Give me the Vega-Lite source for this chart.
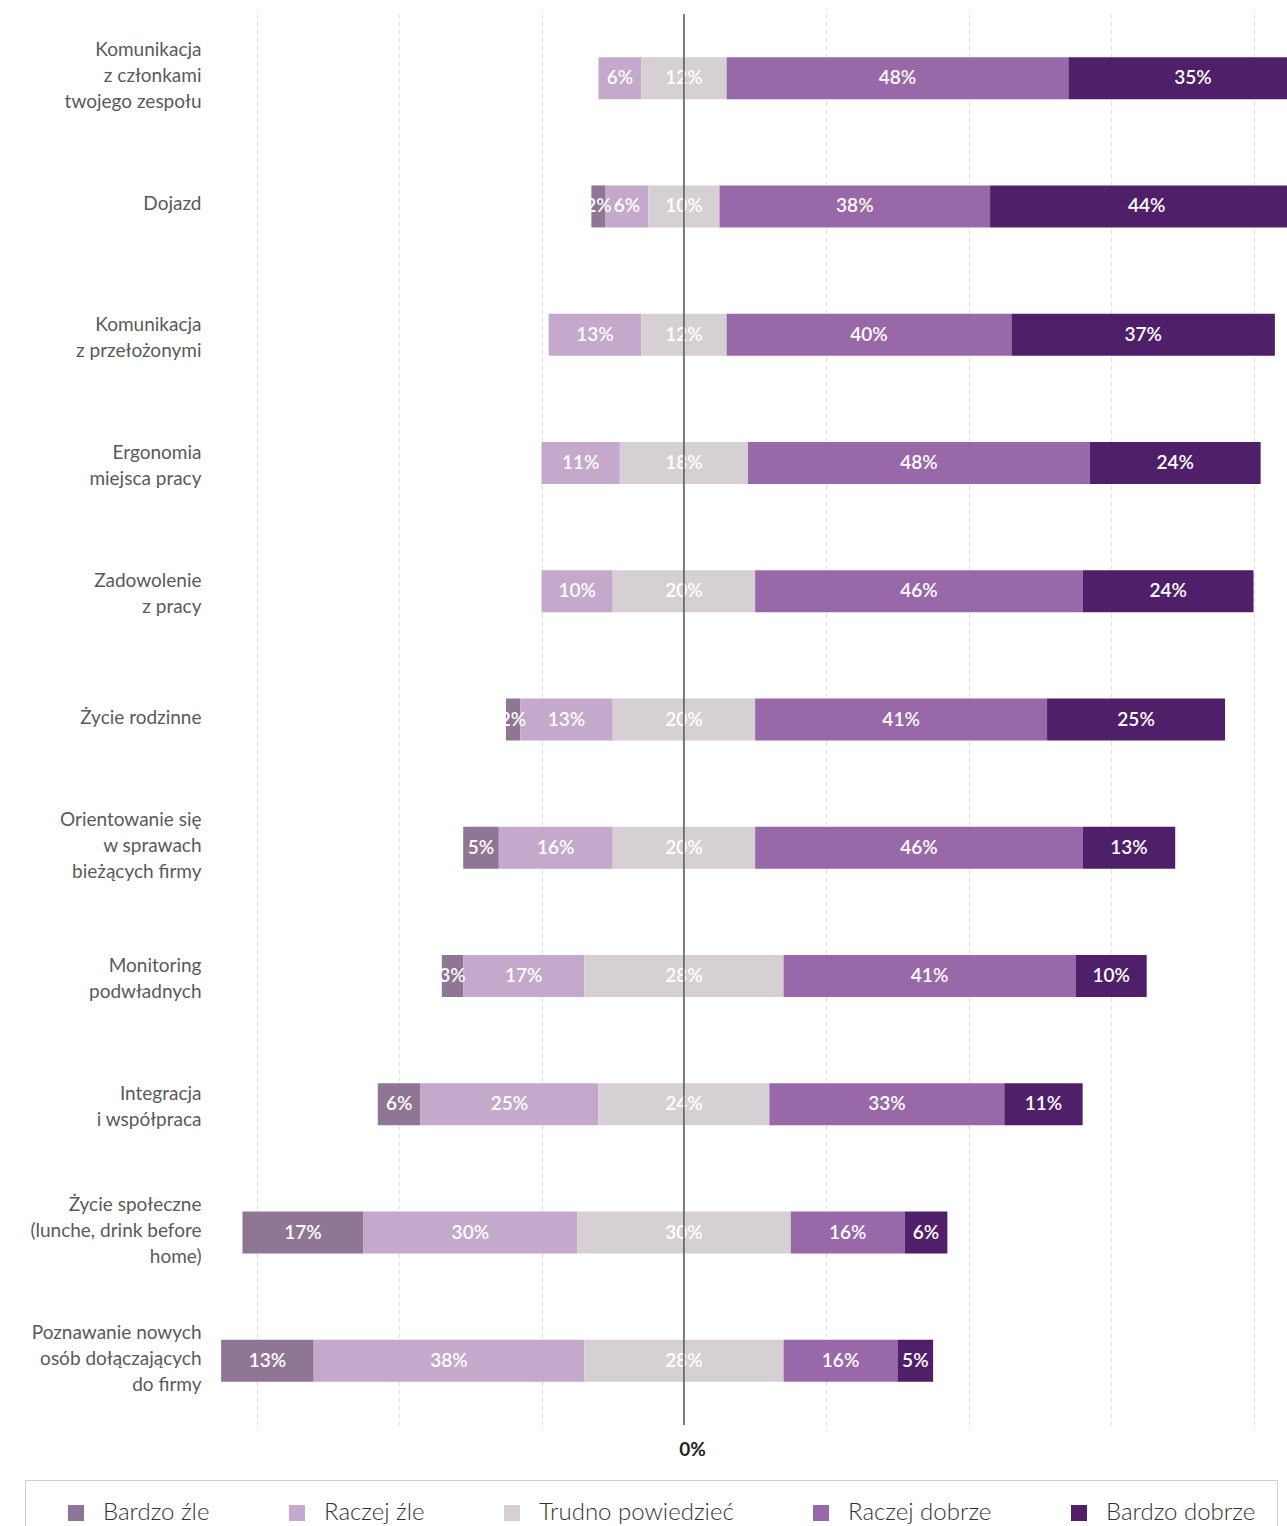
{
  "$schema": "https://vega.github.io/schema/vega-lite/v6.json",
  "autosize": {"type": "none"},
  "width": 1073,
  "height": 1411,
  "padding": {"left": 214, "top": 14, "right": 0, "bottom": 101},
  "background": "white",
  "config": {
    "view": {"stroke": null},
    "font": "Lato"
  },
  "data": {
    "values": [
      {"q": "Komunikacja|z członkami|twojego zespołu", "cat": "Raczej źle", "pct": 6},
      {"q": "Komunikacja|z członkami|twojego zespołu", "cat": "Trudno powiedzieć", "pct": 12},
      {"q": "Komunikacja|z członkami|twojego zespołu", "cat": "Raczej dobrze", "pct": 48},
      {"q": "Komunikacja|z członkami|twojego zespołu", "cat": "Bardzo dobrze", "pct": 35},
      {"q": "Dojazd", "cat": "Bardzo źle", "pct": 2},
      {"q": "Dojazd", "cat": "Raczej źle", "pct": 6},
      {"q": "Dojazd", "cat": "Trudno powiedzieć", "pct": 10},
      {"q": "Dojazd", "cat": "Raczej dobrze", "pct": 38},
      {"q": "Dojazd", "cat": "Bardzo dobrze", "pct": 44},
      {"q": "Komunikacja|z przełożonymi", "cat": "Raczej źle", "pct": 13},
      {"q": "Komunikacja|z przełożonymi", "cat": "Trudno powiedzieć", "pct": 12},
      {"q": "Komunikacja|z przełożonymi", "cat": "Raczej dobrze", "pct": 40},
      {"q": "Komunikacja|z przełożonymi", "cat": "Bardzo dobrze", "pct": 37},
      {"q": "Ergonomia|miejsca pracy", "cat": "Raczej źle", "pct": 11},
      {"q": "Ergonomia|miejsca pracy", "cat": "Trudno powiedzieć", "pct": 18},
      {"q": "Ergonomia|miejsca pracy", "cat": "Raczej dobrze", "pct": 48},
      {"q": "Ergonomia|miejsca pracy", "cat": "Bardzo dobrze", "pct": 24},
      {"q": "Zadowolenie|z pracy", "cat": "Raczej źle", "pct": 10},
      {"q": "Zadowolenie|z pracy", "cat": "Trudno powiedzieć", "pct": 20},
      {"q": "Zadowolenie|z pracy", "cat": "Raczej dobrze", "pct": 46},
      {"q": "Zadowolenie|z pracy", "cat": "Bardzo dobrze", "pct": 24},
      {"q": "Życie rodzinne", "cat": "Bardzo źle", "pct": 2},
      {"q": "Życie rodzinne", "cat": "Raczej źle", "pct": 13},
      {"q": "Życie rodzinne", "cat": "Trudno powiedzieć", "pct": 20},
      {"q": "Życie rodzinne", "cat": "Raczej dobrze", "pct": 41},
      {"q": "Życie rodzinne", "cat": "Bardzo dobrze", "pct": 25},
      {"q": "Orientowanie się|w sprawach|bieżących firmy", "cat": "Bardzo źle", "pct": 5},
      {"q": "Orientowanie się|w sprawach|bieżących firmy", "cat": "Raczej źle", "pct": 16},
      {"q": "Orientowanie się|w sprawach|bieżących firmy", "cat": "Trudno powiedzieć", "pct": 20},
      {"q": "Orientowanie się|w sprawach|bieżących firmy", "cat": "Raczej dobrze", "pct": 46},
      {"q": "Orientowanie się|w sprawach|bieżących firmy", "cat": "Bardzo dobrze", "pct": 13},
      {"q": "Monitoring|podwładnych", "cat": "Bardzo źle", "pct": 3},
      {"q": "Monitoring|podwładnych", "cat": "Raczej źle", "pct": 17},
      {"q": "Monitoring|podwładnych", "cat": "Trudno powiedzieć", "pct": 28},
      {"q": "Monitoring|podwładnych", "cat": "Raczej dobrze", "pct": 41},
      {"q": "Monitoring|podwładnych", "cat": "Bardzo dobrze", "pct": 10},
      {"q": "Integracja|i współpraca", "cat": "Bardzo źle", "pct": 6},
      {"q": "Integracja|i współpraca", "cat": "Raczej źle", "pct": 25},
      {"q": "Integracja|i współpraca", "cat": "Trudno powiedzieć", "pct": 24},
      {"q": "Integracja|i współpraca", "cat": "Raczej dobrze", "pct": 33},
      {"q": "Integracja|i współpraca", "cat": "Bardzo dobrze", "pct": 11},
      {"q": "Życie społeczne|(lunche, drink before|home)", "cat": "Bardzo źle", "pct": 17},
      {"q": "Życie społeczne|(lunche, drink before|home)", "cat": "Raczej źle", "pct": 30},
      {"q": "Życie społeczne|(lunche, drink before|home)", "cat": "Trudno powiedzieć", "pct": 30},
      {"q": "Życie społeczne|(lunche, drink before|home)", "cat": "Raczej dobrze", "pct": 16},
      {"q": "Życie społeczne|(lunche, drink before|home)", "cat": "Bardzo dobrze", "pct": 6},
      {"q": "Poznawanie nowych|osób dołączających|do firmy", "cat": "Bardzo źle", "pct": 13},
      {"q": "Poznawanie nowych|osób dołączających|do firmy", "cat": "Raczej źle", "pct": 38},
      {"q": "Poznawanie nowych|osób dołączających|do firmy", "cat": "Trudno powiedzieć", "pct": 28},
      {"q": "Poznawanie nowych|osób dołączających|do firmy", "cat": "Raczej dobrze", "pct": 16},
      {"q": "Poznawanie nowych|osób dołączających|do firmy", "cat": "Bardzo dobrze", "pct": 5}
    ]
  },
  "transform": [
    {"calculate": "indexof(['Bardzo źle','Raczej źle','Trudno powiedzieć','Raczej dobrze','Bardzo dobrze'], datum.cat)", "as": "ord"},
    {"calculate": "(datum.ord < 2 ? datum.pct : 0) + (datum.ord == 2 ? datum.pct / 2 : 0)", "as": "signed"},
    {"stack": "pct", "as": ["v1", "v2"], "groupby": ["q"], "sort": [{"field": "ord", "order": "ascending"}]},
    {"joinaggregate": [{"op": "sum", "field": "signed", "as": "off"}], "groupby": ["q"]},
    {"calculate": "datum.v1 - datum.off", "as": "x1"},
    {"calculate": "datum.v2 - datum.off", "as": "x2"},
    {"calculate": "(datum.x1 + datum.x2) / 2", "as": "mid"},
    {"calculate": "datum.pct + '%'", "as": "lbl"}
  ],
  "layer": [
    {
      "mark": {"type": "bar", "height": 42, "clip": true},
      "encoding": {
        "y": {
          "field": "q",
          "type": "nominal",
          "sort": null,
          "scale": {"paddingInner": 0, "paddingOuter": 0},
          "axis": {
            "title": null,
            "labelExpr": "split(datum.label, '|')",
            "labelLineHeight": 26,
            "labelFontSize": 19,
            "labelColor": "#5a5a5a",
            "labelPadding": 13,
            "labelLimit": 400,
            "labelOffset": {
              "condition": [
                {"test": "length(split(datum.value, '|')) == 3", "value": -28},
                {"test": "length(split(datum.value, '|')) == 2", "value": -10}
              ],
              "value": -2
            },
            "ticks": false,
            "domain": false,
            "grid": false
          }
        },
        "x": {
          "field": "x1",
          "type": "quantitative",
          "scale": {"domain": [-66, 84.7], "nice": false, "zero": false},
          "axis": {
            "title": null,
            "values": [-60, -40, -20, 0, 20, 40, 60, 80],
            "labelExpr": "datum.value == 0 ? '0%' : ''",
            "labelFontSize": 19,
            "labelFontWeight": "bold",
            "labelColor": "#222",
            "labelPadding": 15,
            "labelAlign": "center",
            "labelOffset": 8,
            "ticks": false,
            "domain": false,
            "grid": true,
            "gridColor": "#dddddd",
            "gridDash": [4, 4],
            "gridWidth": 1
          }
        },
        "x2": {"field": "x2"},
        "color": {
          "field": "cat",
          "type": "nominal",
          "scale": {
            "domain": ["Bardzo źle", "Raczej źle", "Trudno powiedzieć", "Raczej dobrze", "Bardzo dobrze"],
            "range": ["#8f7694", "#c4a9cc", "#d6cfd4", "#9968a8", "#4f1f69"]
          },
          "legend": {
            "title": null,
            "orient": "none",
            "direction": "horizontal",
            "legendX": -189,
            "legendY": 1466,
            "symbolType": "square",
            "symbolSize": 256,
            "symbolStrokeWidth": 0,
            "labelFontSize": 24,
            "labelFontWeight": 300,
            "labelColor": "#333",
            "labelOffset": 15,
            "columnPadding": 57,
            "padding": 21,
            "symbolOffset": 18,
            "strokeColor": "#d0d0d0",
            "labelLimit": 400
          }
        }
      }
    },
    {
      "mark": {"type": "text", "color": "white", "fontSize": 19, "fontWeight": 600, "align": "center", "baseline": "middle", "clip": true},
      "encoding": {
        "y": {"field": "q", "type": "nominal", "sort": null},
        "x": {"field": "mid", "type": "quantitative"},
        "text": {"field": "lbl"}
      }
    },
    {
      "data": {"values": [{"zero": 0}]},
      "mark": {"type": "rule", "color": "#555", "strokeWidth": 1.5},
      "encoding": {
        "x": {"field": "zero", "type": "quantitative"}
      }
    }
  ]
}
